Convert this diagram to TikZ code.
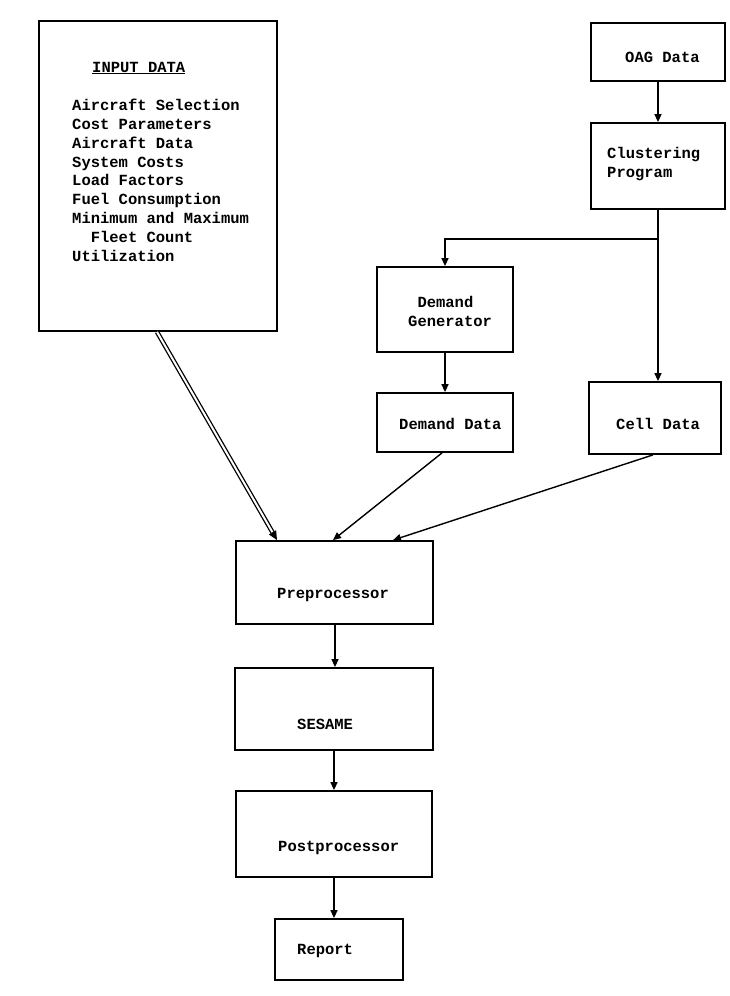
\documentclass[tikz,border=0pt]{standalone}
\usepackage{fontspec}
\setmonofont{Liberation Mono}
\usetikzlibrary{arrows.meta}
\begin{document}
\begin{tikzpicture}[x=1pt,y=-1pt,
  box/.style={draw, line width=1.8pt, rectangle, inner sep=0pt},
  txt/.style={font=\fontsize{15.5}{18.9}\selectfont\ttfamily\bfseries, inner sep=0pt, anchor=base west, align=left},
  link/.style={line width=1.4pt, -{Triangle[length=8pt,width=7pt]}},
  plain/.style={line width=1.4pt},
]
\useasboundingbox (0,0) rectangle (729,996);

% boxes
\node[box, minimum width=238pt, minimum height=310pt] (input) at (158,176) {};
\node[box, minimum width=134pt, minimum height=58pt] (oag) at (658,52) {};
\node[box, minimum width=134pt, minimum height=86pt] (clust) at (658,166) {};
\node[box, minimum width=136pt, minimum height=85pt] (demgen) at (445,309.5) {};
\node[box, minimum width=136pt, minimum height=59pt] (demdata) at (445,422.5) {};
\node[box, minimum width=132pt, minimum height=72pt] (cell) at (655,418) {};
\node[box, minimum width=197pt, minimum height=83pt] (pre) at (334.5,582.5) {};
\node[box, minimum width=198pt, minimum height=82pt] (sesame) at (334,709) {};
\node[box, minimum width=196pt, minimum height=86pt] (post) at (334,834) {};
\node[box, minimum width=128pt, minimum height=61pt] (report) at (339,949.5) {};

% texts (multi-line nodes are anchored at the baseline of their last line)
\node[txt] (tinhead) at (92,72) {\underline{INPUT DATA}};
\node[txt] (tinlist) at (72,261.5) {Aircraft Selection\\Cost Parameters\\Aircraft Data\\System Costs\\Load Factors\\Fuel Consumption\\Minimum and Maximum\\~~Fleet Count\\Utilization};
\node[txt] (toag) at (625,62.5) {OAG Data};
\node[txt] (tclust) at (607,177.5) {Clustering\\Program};
\node[txt] (tdemgen) at (408,326.5) {~Demand\\Generator};
\node[txt] (tdemdata) at (399,429.5) {Demand Data};
\node[txt] (tcell) at (616,429.5) {Cell Data};
\node[txt] (tpre) at (277,598.5) {Preprocessor};
\node[txt] (tsesame) at (297,729.5) {SESAME};
\node[txt] (tpost) at (278,851.5) {Postprocessor};
\node[txt] (treport) at (297,954.5) {Report};

% connectors
\coordinate (split) at (658,239);
\draw[link] (oag) -- (clust);
\draw[plain] (clust.south) -- (split);
\draw[link] (split) -- (split |- cell.north);
\draw[link] (split) -| (demgen.north);
\draw[link] (demgen) -- (demdata);
\draw[link] ([xshift=-3pt]demdata.south) -- ([xshift=-1.5pt]pre.north);
\draw[link] ([xshift=-2pt]cell.south) -- ([xshift=58.5pt]pre.north);
\draw[line width=1.3pt, double, double distance=2pt, -{Triangle[length=9pt,width=8pt]}] ([xshift=-1pt]input.south) -- ([xshift=-57.5pt]pre.north);
\draw[link] ([xshift=0.5pt]pre.south) -- ([xshift=0.5pt]pre.south |- sesame.north);
\draw[link] (sesame.south) -- (sesame.south |- post.north);
\draw[link] (post.south) -- (post.south |- report.north);
\end{tikzpicture}
\end{document}
